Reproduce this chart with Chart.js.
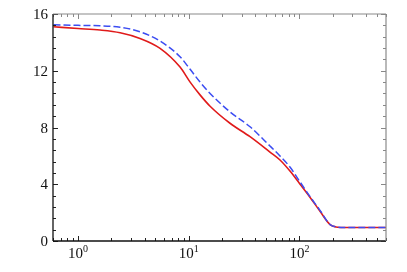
<!DOCTYPE html>
<html>
<head>
<meta charset="utf-8">
<script src="https://cdn.jsdelivr.net/npm/chart.js@4/dist/chart.umd.min.js"></script>
<style>
  html, body { margin: 0; padding: 0; background: #fff; }
  #wrap { width: 407px; height: 272px; }
</style>
</head>
<body>
<div id="wrap"><canvas id="myChart" width="407" height="272"></canvas></div>
<script>
// x positions (log axis)
var xValues = [0.6, 1, 1.58, 2.4, 3.63, 5.51, 8.35, 10.3, 12.65, 15.6, 23.6, 35.8, 54.2, 66.8, 82.2, 101, 125, 153, 189, 214, 258, 606];
// red solid curve
var redValues = [15.1, 14.98, 14.87, 14.68, 14.28, 13.58, 12.26, 11.2, 10.3, 9.5, 8.3, 7.35, 6.27, 5.71, 4.93, 4.02, 3.07, 2.11, 1.16, 0.99, 0.95, 0.95];
// blue dashed curve
var blueValues = [15.24, 15.2, 15.17, 15.06, 14.75, 14.09, 12.99, 12.1, 11.2, 10.4, 9.1, 8.05, 6.7, 5.99, 5.21, 4.18, 3.12, 2.18, 1.16, 0.99, 0.95, 0.95];

var xMin = 0.594, xMax = 606;
var yMin = 0, yMax = 16;
// x tick labels: base and exponent
var xTickValues = [1, 10, 100];
var xTickExps = ['0', '1', '2'];
var yTickValues = [0, 4, 8, 12, 16];
var yMinorStep = 0.8;

var serif = "'Liberation Serif', 'Times New Roman', serif";

function pts(ys) {
    return xValues.map(function (x, i) { return {x: x, y: ys[i]}; });
}

// inward ticks on all four sides, frame and tick labels
var frameTicks = {
    id: 'frameTicks',
    afterDraw: function (chart) {
        var c = chart.ctx, a = chart.chartArea;
        var xs = chart.scales.x, ys = chart.scales.y;
        c.save();
        c.lineWidth = 1;
        function tick(x1, y1, x2, y2, col) {
            c.strokeStyle = col;
            c.beginPath(); c.moveTo(x1, y1); c.lineTo(x2, y2); c.stroke();
        }
        // x ticks
        for (var e = -1; e <= 3; e++) {
            for (var m = 1; m <= 9; m++) {
                var v = m * Math.pow(10, e);
                if (v < xMin || v > xMax) continue;
                var px = Math.round(xs.getPixelForValue(v)) + 0.5;
                var len = (m === 1) ? 5 : 3;
                tick(px, a.bottom, px, a.bottom - len, '#222');
                tick(px, a.top, px, a.top + len, '#888');
            }
        }
        // y ticks
        for (var k = 0; k <= 20; k++) {
            var yv = yMin + k * yMinorStep;
            if (yv > yMax + 1e-9) break;
            var py = Math.round(ys.getPixelForValue(yv)) + 0.5;
            var major = yTickValues.indexOf(Math.round(yv * 10) / 10) >= 0;
            var l = major ? 5 : 3;
            tick(a.left, py, a.left + l, py, '#222');
            tick(a.right, py, a.right - l, py, '#888');
        }
        // frame
        c.lineWidth = 1.3;
        tick(a.left, a.top, a.left, a.bottom, '#111');
        tick(a.left, a.bottom, a.right, a.bottom, '#111');
        c.lineWidth = 1.2;
        tick(a.left, a.top, a.right, a.top, '#8a8a8a');
        tick(a.right, a.top, a.right, a.bottom, '#8a8a8a');

        // tick labels
        c.fillStyle = '#111';
        c.textBaseline = 'alphabetic';
        c.font = '15px ' + serif;
        c.textAlign = 'right';
        yTickValues.forEach(function (v) {
            c.fillText(String(v), a.left - 5, ys.getPixelForValue(v) + 5);
        });
        c.textAlign = 'left';
        xTickValues.forEach(function (v, i) {
            c.font = '15px ' + serif;
            var wBase = c.measureText('10').width;
            c.font = '10px ' + serif;
            var wExp = c.measureText(xTickExps[i]).width;
            var x0 = xs.getPixelForValue(v) - (wBase + wExp) / 2;
            var base = a.bottom + 17;
            c.font = '15px ' + serif;
            c.fillText('10', x0, base);
            c.font = '10px ' + serif;
            c.fillText(xTickExps[i], x0 + wBase, base - 6);
        });
        c.restore();
    }
};

var ctx = document.getElementById('myChart').getContext('2d');
var chart = new Chart(ctx, {
    type: 'line',
    data: {
        datasets: [{
            label: 'blue',
            data: pts(blueValues),
            borderColor: '#3b4cf2',
            borderWidth: 1.5,
            borderDash: [7, 3],
            pointRadius: 0,
            fill: false,
            cubicInterpolationMode: 'monotone'
        }, {
            label: 'red',
            data: pts(redValues),
            borderColor: '#e01a1a',
            borderWidth: 1.6,
            pointRadius: 0,
            fill: false,
            cubicInterpolationMode: 'monotone'
        }]
    },
    options: {
        responsive: false,
        animation: false,
        layout: { padding: { top: 14, right: 21, left: 0, bottom: 0 } },
        plugins: { legend: { display: false }, tooltip: { enabled: false } },
        scales: {
            x: {
                type: 'logarithmic',
                min: xMin,
                max: xMax,
                grid: { display: false, drawTicks: false },
                border: { display: false },
                ticks: { display: false },
                afterFit: function (s) { s.height = 31; }
            },
            y: {
                min: yMin,
                max: yMax,
                grid: { display: false, drawTicks: false },
                border: { display: false },
                ticks: { display: false },
                afterFit: function (s) { s.width = 53; }
            }
        }
    },
    plugins: [frameTicks]
});
</script>
</body>
</html>
